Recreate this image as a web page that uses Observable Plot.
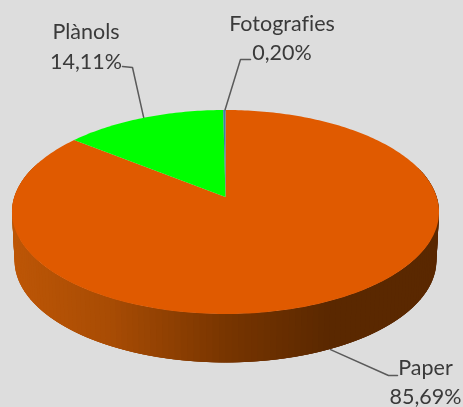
<!DOCTYPE html>
<html>
<head>
<meta charset="utf-8">
<script src="https://cdn.jsdelivr.net/npm/d3@7"></script>
<script src="https://cdn.jsdelivr.net/npm/@observablehq/plot@0.6"></script>
<style>
html,body{margin:0;padding:0;background:#dddddd;overflow:hidden}
svg{display:block;filter:blur(0.55px)}
svg text{font-variant-ligatures:none}
</style>
</head>
<body>
<div id="chart"></div>
<script>
// Data, in clockwise drawing order from twelve o'clock
const categories = ["Paper", "Plànols", "Fotografies"];
const shares = [85.69, 14.11, 0.20];
const sliceColors = ["#e05a00", "#00ff00", "#3f7fa8"];

// Label layout
const labelX = [425, 85.5, 281.5];
const nameBaseline = [374, 38, 30];
const valueBaseline = [403, 68, 59];
const elbowX = [388, 132, 240];
const elbowY = [375, 67, 59];
const leaderEndX = [397, 122, 250];
const leaderEndY = [375, 66, 59];

// Disc projection (perspective tilt)
const cx = 225.5, apexY = 197, rimX = 211.2, rimY = 99.8, persp = 0.147;
const depth = 48.5, bottomShrink = 0.988;
const project = (deg, lift = 0) => {
  const a = deg * Math.PI / 180, u = Math.sin(a), v = Math.cos(a), s = 1 / (1 + persp * v);
  const sx = lift ? bottomShrink : 1;
  return [cx + rimX * u * s * sx, apexY - rimY * v * s + lift];
};
const range = (a, b, n) => d3.range(n + 1).map(i => a + (b - a) * i / n);

// Slice angles
let acc = 0;
const slices = categories.map((name, i) => {
  const start = acc / 100 * 360; acc += shares[i];
  return {name, start, end: acc / 100 * 360, color: sliceColors[i]};
});

// Face fans
const faceRows = slices.flatMap(s =>
  range(s.start, s.end, Math.max(2, Math.ceil(s.end - s.start))).map(deg => {
    const [x, y] = project(deg);
    return {name: s.name, color: s.color, x1: cx, y1: apexY, x2: x, y2: y};
  }));

// Side wall bands, painted right to left with overlap so no seams show
const shade = d3.scaleLinear().domain([12, 110, 225, 330, 440]).range(["#bd5606", "#a84c04", "#783500", "#5a2800", "#5a2800"]);
const step = 1.5;
const sideAngles = d3.range(72, 288, step);
const sideRows = sideAngles.flatMap((a, i) => {
  const color = shade(project(a + step / 2)[0]);
  return [a, a + step * 3].map(deg => {
    const [x1, y1] = project(deg), [x2, y2] = project(deg, depth);
    return {band: String(i).padStart(4, "0"), color, x1, y1, x2, y2};
  });
});

// Leaders
const midAngle = s => (s.start + s.end) / 2;
const leaderRows = slices.flatMap((s, i) => {
  const front = Math.cos(midAngle(s) * Math.PI / 180) < 0;
  const [x, y] = project(midAngle(s), front ? depth : 0);
  return [[x, y], [elbowX[i], elbowY[i]], [leaderEndX[i], leaderEndY[i]]].map(p => ({name: s.name, x: p[0], y: p[1]}));
});

const labels = slices.map((s, i) => ({
  x: labelX[i], name: s.name, value: shares[i].toFixed(2).replace(".", ",") + "%",
  nameY: nameBaseline[i], valueY: valueBaseline[i]
}));

const textOpts = {x: "x", fontFamily: "Lato", fontSize: 21.5, fill: "#3a3a3a", lineAnchor: "bottom", textAnchor: "middle"};

const chart = Plot.plot({
  width: 463, height: 407, margin: 0,
  x: {domain: [0, 463], range: [0, 463], axis: null},
  y: {domain: [0, 407], range: [0, 407], axis: null},
  style: {background: "transparent"},
  marks: [
    Plot.line(leaderRows, {x: "x", y: "y", z: "name", stroke: "#5a5a5a", strokeWidth: 1.5, curve: "linear"}),
    Plot.area(sideRows, {x1: "x1", y1: "y1", x2: "x2", y2: "y2", z: "band", fill: "color"}),
    Plot.area(faceRows, {x1: "x1", y1: "y1", x2: "x2", y2: "y2", z: "name", fill: "color"}),
    Plot.text(labels, {...textOpts, y: "nameY", text: "name"}),
    Plot.text(labels, {...textOpts, y: "valueY", text: "value"})
  ]
});
document.getElementById("chart").append(chart);
</script>
</body>
</html>
